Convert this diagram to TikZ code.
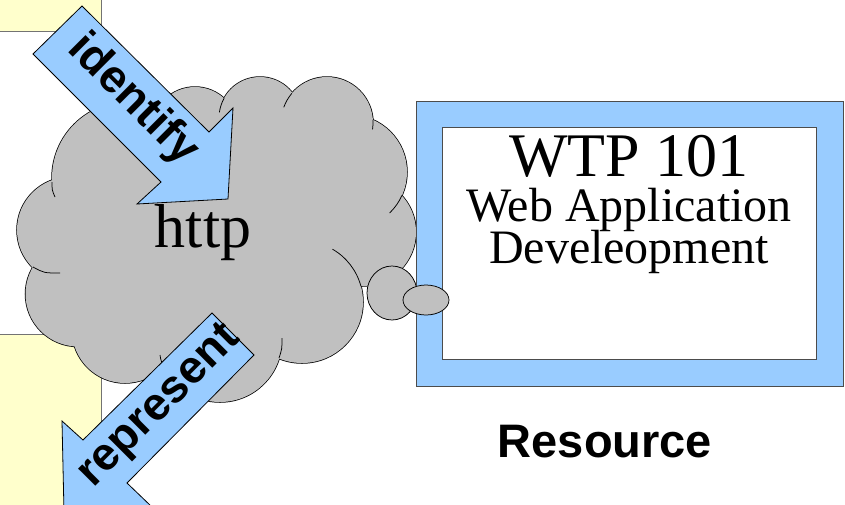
\documentclass[tikz,border=0pt]{standalone}
\usepackage{fontspec}
\setmainfont{Liberation Serif}
\setsansfont{Liberation Sans}
\usetikzlibrary{positioning}
\definecolor{noteyellow}{HTML}{FFFFCC}
\definecolor{frameblue}{HTML}{99CCFF}
\definecolor{cloudgray}{HTML}{C0C0C0}

\begin{document}
\begin{tikzpicture}[x=1pt,y=-1pt,
note/.style={fill=noteyellow,draw=black!55,line width=0.8pt},
bigarrow/.style={fill=frameblue,draw=black,line width=0.8pt,line join=miter},
verb/.style={font=\sffamily\bfseries\fontsize{46}{46}\selectfont,inner sep=0pt},
bump/.style={fill=cloudgray,draw=black,line width=1.5pt},
wrinkle/.style={draw=black,line width=0.75pt},
puff/.style={fill=cloudgray,draw=black,line width=0.75pt}]
\useasboundingbox (0,0) rectangle (845,504);
\fill[white] (-10,-10) rectangle (855,514);
\draw[note] (-5,-5) rectangle (101,31);
\draw[note] (-5,334) rectangle (101,510);
% cloud
\foreach \cx/\cy/\rad in {128/178/76,70/230/53,78/294/52.5,125/330/53,220/340/62,
  302/302/61,362/232/54,350/172/57,327/123/46,260/118/41,195/130/43}
  \draw[bump] (\cx,\cy) circle[radius=\rad];
\foreach \cx/\cy/\rad in {128/178/76,70/230/53,78/294/52.5,125/330/53,220/340/62,
  302/302/61,362/232/54,350/172/57,327/123/46,260/118/41,195/130/43}
  \fill[cloudgray] (\cx,\cy) circle[radius=\rad];
\fill[cloudgray] (128,178) -- (195,130) -- (260,118) -- (327,123) -- (350,172)
  -- (362,232) -- (302,302) -- (220,340) -- (125,330) -- (78,294) -- (70,230) -- cycle;
\draw[wrinkle] (52,182) .. controls (52,190) .. (55,197);
\draw[wrinkle] (33,267) .. controls (44,273) .. (60,273);
\draw[wrinkle] (164,366) .. controls (161,361) .. (160,355);
\draw[wrinkle] (279,358) .. controls (282,349) .. (282,338);
\draw[wrinkle] (302,302) ++(-15:61) arc[start angle=-15,end angle=-60,radius=61];
\draw[wrinkle] (350,172) ++(24:57) arc[start angle=24,end angle=46,radius=57];
\draw[wrinkle] (327,123) ++(-4:46) arc[start angle=-4,end angle=8,radius=46];
\draw[wrinkle] (327,123) ++(220:46) arc[start angle=220,end angle=200,radius=46];
\draw[wrinkle] (260,118) ++(209:41) arc[start angle=209,end angle=188,radius=41];
\draw[puff] (392,293) ellipse[x radius=25,y radius=27];
\node[anchor=base,font=\fontsize{62}{62}\selectfont] (http) at (203,247) {http};
% resource
\draw[fill=frameblue,draw=black!70,line width=0.8pt] (416,101) rectangle (843,386);
\draw[fill=white,draw=black!70,line width=0.8pt] (442,127) rectangle (816,359);
\draw[puff] (426,300) ellipse[x radius=23,y radius=15];
\node[anchor=base,align=center,font=\fontsize{48}{40}\selectfont] (course) at (629,263)
  {{\fontsize{62}{40}\selectfont WTP 101}\\[5pt]Web Application\\[-3pt]Develeopment};
\node[anchor=base,font=\sffamily\bfseries\fontsize{47}{47}\selectfont] (resource) at (605,457) {Resource};
% arrows
\draw[bigarrow] (82,6) -- (209,132) -- (233,108) -- (228,199) -- (137,204) -- (161,182) -- (33,54) -- cycle;
\node[verb,rotate=-45] (identify) at (133,100) {identify};
\draw[bigarrow] (212,313) -- (254,355) -- (127,483) -- (152,507) -- (64,512) -- (62,421) -- (83,440) -- cycle;
\node[verb,rotate=45] (represent) at (160,407) {represent};
\end{tikzpicture}
\end{document}
